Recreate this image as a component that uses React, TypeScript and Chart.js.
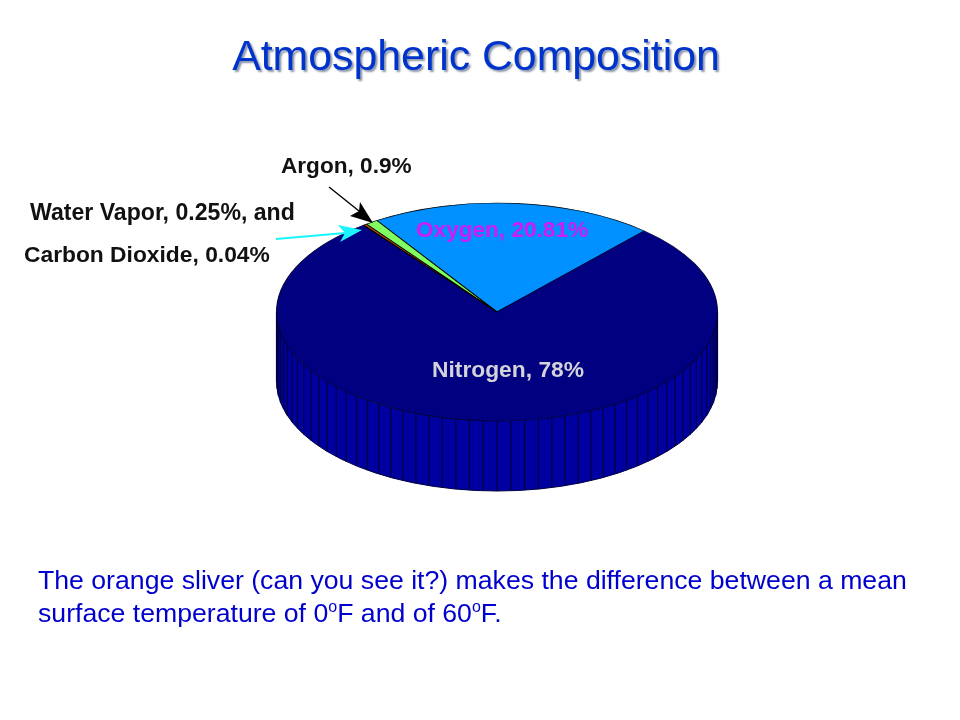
import React, { useEffect, useRef } from "react";
import { Chart, registerables } from "chart.js";

Chart.register(...registerables);

const TITLE = "Atmospheric Composition";
const CATEGORIES = ["Oxygen", "Nitrogen", "Carbon Dioxide", "Water Vapor", "Argon"];
const PERCENTAGES = [20.81, 78, 0.04, 0.25, 0.9];
const COLORS = ["#0090ff", "#000080", "#000080", "#b84a00", "#80ff60"];
const BORDERS = ["#000000", "#00003c", "#000000", "#000000", "#000000"];
const ARGON_LABEL = "Argon, 0.9%";
const WATER_LABEL = "Water Vapor, 0.25%, and";
const CO2_LABEL = "Carbon Dioxide, 0.04%";
const OXYGEN_LABEL = "Oxygen, 20.81%";
const NITROGEN_LABEL = "Nitrogen, 78%";

const FACE_CY = 312;
const FACE_RY = 109;
const DEPTH = 70;
const FACETS = 100;

const pie3d = {
  id: "pie3d",
  beforeDatasetsDraw(chart: any) {
    const { ctx } = chart;
    const arc = chart.getDatasetMeta(0).data[1];
    const cx = arc.x;
    const R = arc.outerRadius;
    const outline = () => {
      ctx.beginPath();
      ctx.ellipse(cx, FACE_CY, R, FACE_RY, 0, 0, Math.PI);
      ctx.lineTo(cx - R, FACE_CY + DEPTH);
      ctx.ellipse(cx, FACE_CY + DEPTH, R, FACE_RY, 0, Math.PI, 0, true);
      ctx.closePath();
    };
    ctx.save();
    outline();
    ctx.fillStyle = "#0000a0";
    ctx.fill();
    ctx.strokeStyle = "#00004a";
    ctx.lineWidth = 1.4;
    for (let i = 0; i <= FACETS / 2; i++) {
      const t = (i / (FACETS / 2)) * Math.PI;
      const x = cx + R * Math.cos(t);
      const y = FACE_CY + FACE_RY * Math.sin(t);
      ctx.beginPath();
      ctx.moveTo(x, y);
      ctx.lineTo(x, y + DEPTH);
      ctx.stroke();
    }
    outline();
    ctx.strokeStyle = "#000040";
    ctx.lineWidth = 1;
    ctx.stroke();
    ctx.restore();
    // squash the flat pie into the tilted top face
    ctx.save();
    ctx.translate(0, FACE_CY);
    ctx.scale(1, FACE_RY / R);
    ctx.translate(0, -arc.y);
  },
  afterDatasetsDraw(chart: any) {
    const { ctx } = chart;
    ctx.restore();
    ctx.save();
    const arrow = (color: string, pts: number[][], width: number) => {
      const [from, tip, w1, notch, w2] = pts;
      ctx.strokeStyle = color;
      ctx.fillStyle = color;
      ctx.lineWidth = width;
      ctx.beginPath();
      ctx.moveTo(from[0], from[1]);
      ctx.lineTo(notch[0], notch[1]);
      ctx.stroke();
      ctx.beginPath();
      ctx.moveTo(tip[0], tip[1]);
      ctx.lineTo(w1[0], w1[1]);
      ctx.lineTo(notch[0], notch[1]);
      ctx.lineTo(w2[0], w2[1]);
      ctx.closePath();
      ctx.fill();
    };
    arrow("#000000", [[329, 187], [373, 223], [350, 216], [359, 211], [360, 202]], 1.4);
    arrow("#19f5ff", [[276, 239], [362, 230], [338, 225], [345, 233], [340, 242]], 2);

    ctx.textBaseline = "middle";
    ctx.textAlign = "left";
    const label = (t: string, x: number, y: number, c: string, size: number) => {
      ctx.font = `bold ${size}px 'Liberation Sans', Arial, sans-serif`;
      ctx.fillStyle = c;
      ctx.fillText(t, x, y);
    };
    label(ARGON_LABEL, 281, 167, "#111111", 22.6);
    label(WATER_LABEL, 30, 214, "#111111", 23.1);
    label(CO2_LABEL, 24, 256, "#111111", 22.8);
    label(OXYGEN_LABEL, 416, 231, "#d01cf0", 22.6);
    label(NITROGEN_LABEL, 432, 371, "#d4d4d8", 22.8);
    ctx.restore();
  },
};

export default function App() {
  const ref = useRef<HTMLCanvasElement | null>(null);
  useEffect(() => {
    document.body.style.margin = "0";
    document.body.style.background = "#ffffff";
    const chart = new Chart(ref.current!, {
      type: "pie",
      data: {
        labels: CATEGORIES,
        datasets: [
          {
            data: PERCENTAGES,
            backgroundColor: COLORS,
            borderColor: BORDERS,
            borderWidth: 1.2,
            clip: false,
          } as any,
        ],
      },
      options: {
        responsive: false,
        animation: false,
        rotation: -33,
        layout: { padding: { left: 276, right: 242, top: 138, bottom: 138 } },
        plugins: { legend: { display: false }, tooltip: { enabled: false } },
      },
      plugins: [pie3d],
    });
    return () => chart.destroy();
  }, []);

  return (
    <div style={{ position: "relative", width: 960, height: 720, background: "#fff", overflow: "hidden" }}>
      <canvas ref={ref} width={960} height={720} style={{ position: "absolute", left: 0, top: 0 }} />
      <div
        style={{
          position: "absolute",
          left: 0,
          width: 952,
          top: 30,
          textAlign: "center",
          font: "42.8px 'Liberation Sans', Arial, sans-serif",
          lineHeight: "50px",
          color: "#0033cc",
          textShadow: "2px 2px 2px #8a94a8",
          whiteSpace: "nowrap",
        }}
      >
        {TITLE}
      </div>
      <div
        style={{
          position: "absolute",
          left: 38,
          top: 564,
          font: "26.65px 'Liberation Sans', Arial, sans-serif",
          lineHeight: "33px",
          color: "#0000cc",
          whiteSpace: "nowrap",
        }}
      >
        The orange sliver (can you see it?) makes the difference between a mean
        <br />
        surface temperature of 0<sup style={{ fontSize: 16, lineHeight: 0 }}>o</sup>F and of 60
        <sup style={{ fontSize: 16, lineHeight: 0 }}>o</sup>F.
      </div>
    </div>
  );
}
